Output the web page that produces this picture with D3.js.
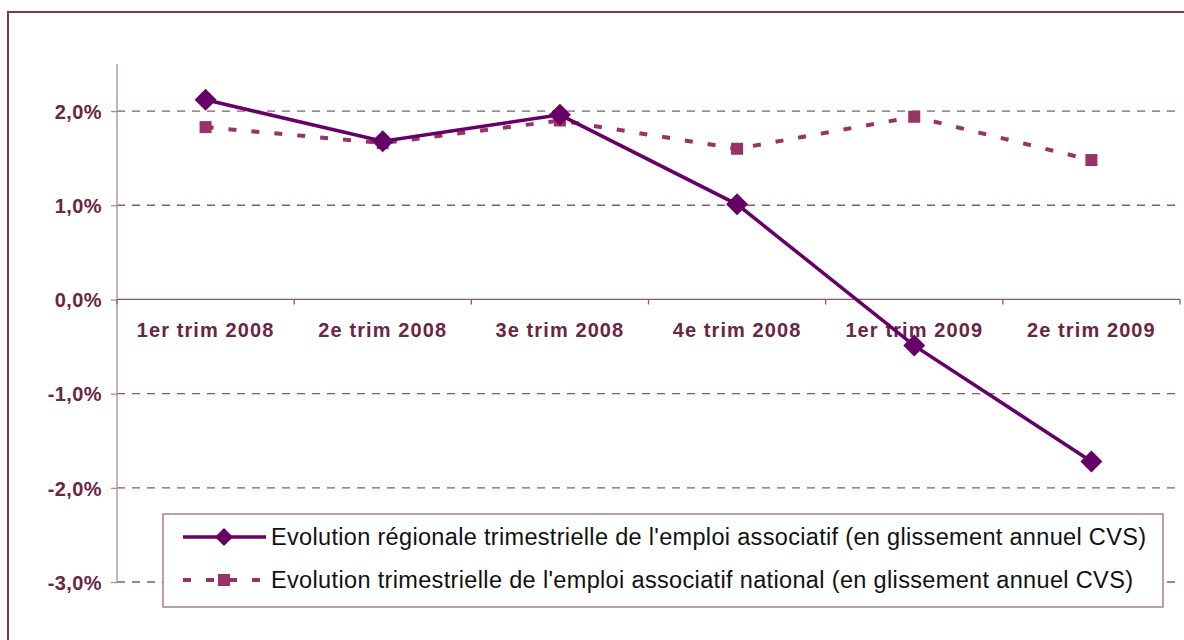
<!DOCTYPE html>
<html>
<head>
<meta charset="utf-8">
<script src="https://d3js.org/d3.v7.min.js"></script>
<style>
  body { margin: 0; background: #fff; }
  svg { display: block; font-family: "Liberation Sans", Arial, sans-serif; }
</style>
</head>
<body>
<div id="vis"></div>
<script>
// quarters on the x axis
const categories = ["1er trim 2008", "2e trim 2008", "3e trim 2008", "4e trim 2008", "1er trim 2009", "2e trim 2009"];
// regional series (% annual change, CVS)
const regional = [2.12, 1.68, 1.96, 1.01, -0.49, -1.72];
// national series
const national = [1.83, 1.66, 1.90, 1.60, 1.94, 1.48];
const yTicks = [-3, -2, -1, 0, 1, 2];
const legendLabels = [
  "Evolution régionale trimestrielle de l'emploi associatif (en glissement annuel CVS)",
  "Evolution trimestrielle de l'emploi associatif national (en glissement annuel CVS)"
];

const W = 1184, H = 640;
const svg = d3.select("#vis").append("svg").attr("width", W).attr("height", H);

const textCol = "#6b2545";
const gridCol = "#8c5572";
const axisCol = "#b08a9c";
const regCol = "#660066";
const natCol = "#993366";

// outer frame
svg.append("rect")
  .attr("x", 8).attr("y", 12).attr("width", W + 20).attr("height", H + 20)
  .attr("fill", "none").attr("stroke", "#7a3a58").attr("stroke-width", 2);

const left = 117, right = 1180;
const x = d3.scalePoint().domain(categories).range([left, right]).padding(0.5);
const y = d3.scaleLinear().domain([-3, 2.5]).range([582, 64]);

// gridlines (dashed), zero line is the axis
svg.append("g").selectAll("line")
  .data(yTicks.filter(d => d !== 0))
  .join("line")
  .attr("x1", left).attr("x2", right)
  .attr("y1", d => y(d)).attr("y2", d => y(d))
  .attr("stroke", gridCol).attr("stroke-width", 1.3)
  .attr("stroke-dasharray", "8,7");

// y axis
const yAxis = d3.axisLeft(y).tickValues(yTicks).tickSize(6).tickPadding(9)
  .tickFormat(d => d3.format(".1f")(d).replace(".", ",").replace("−", "-") + "%");
const gy = svg.append("g").attr("transform", `translate(${left},0)`).call(yAxis);
gy.select(".domain").attr("stroke", axisCol).attr("stroke-width", 1.3)
  .attr("d", `M-0,${y(2.5)}V${y(-3)}`);
gy.selectAll(".tick line").attr("stroke", axisCol).attr("stroke-width", 1.3);
gy.selectAll(".tick text")
  .attr("fill", textCol).attr("font-size", 20).attr("font-weight", "bold")
  .attr("font-family", "Liberation Sans, Arial, sans-serif")
  .attr("dy", "0.36em")
  .style("letter-spacing", "0.4px");

// x axis at zero
const step = x.step();
svg.append("line")
  .attr("x1", left).attr("x2", right).attr("y1", y(0)).attr("y2", y(0))
  .attr("stroke", gridCol).attr("stroke-width", 1.3);
svg.append("g").selectAll("line")
  .data(d3.range(categories.length + 1))
  .join("line")
  .attr("x1", i => left + i * step).attr("x2", i => left + i * step)
  .attr("y1", y(0)).attr("y2", y(0) + 5)
  .attr("stroke", gridCol).attr("stroke-width", 1.3);
svg.append("g").selectAll("text")
  .data(categories)
  .join("text")
  .attr("x", d => x(d)).attr("y", y(0) + 37.5)
  .attr("text-anchor", "middle")
  .attr("fill", textCol).attr("font-size", 20).attr("font-weight", "bold")
  .style("letter-spacing", "1.1px")
  .text(d => d);

const line = d3.line().x((d, i) => x(categories[i])).y(d => y(d));

// national series: dashed with squares
svg.append("path").datum(national)
  .attr("d", line).attr("fill", "none")
  .attr("stroke", natCol).attr("stroke-width", 4)
  .attr("stroke-dasharray", "8,15");
svg.append("g").selectAll("rect")
  .data(national)
  .join("rect")
  .attr("x", (d, i) => x(categories[i]) - 6).attr("y", d => y(d) - 6)
  .attr("width", 12).attr("height", 12).attr("fill", natCol);

// regional series: solid with diamonds
svg.append("path").datum(regional)
  .attr("d", line).attr("fill", "none")
  .attr("stroke", regCol).attr("stroke-width", 3.5);
const diamond = "M0,-11L11,0L0,11L-11,0Z";
svg.append("g").selectAll("path")
  .data(regional)
  .join("path")
  .attr("d", diamond)
  .attr("transform", (d, i) => `translate(${x(categories[i])},${y(d)})`)
  .attr("fill", regCol);

// legend
const lg = svg.append("g");
lg.append("rect")
  .attr("x", 163).attr("y", 514).attr("width", 1000).attr("height", 93)
  .attr("fill", "#fff").attr("stroke", "#9a6a82").attr("stroke-width", 1.3);
const ly = [537, 580];
lg.append("line").attr("x1", 183).attr("x2", 266).attr("y1", ly[0]).attr("y2", ly[0])
  .attr("stroke", regCol).attr("stroke-width", 3.5);
lg.append("path").attr("d", "M0,-9L9,0L0,9L-9,0Z")
  .attr("transform", `translate(224,${ly[0]})`).attr("fill", regCol);
lg.append("line").attr("x1", 183).attr("x2", 266).attr("y1", ly[1]).attr("y2", ly[1])
  .attr("stroke", natCol).attr("stroke-width", 4).attr("stroke-dasharray", "8,15");
lg.append("rect").attr("x", 218).attr("y", ly[1] - 6).attr("width", 12).attr("height", 12)
  .attr("fill", natCol);
const legendWidths = [875, 862];
lg.selectAll("text.lab")
  .data(legendLabels)
  .join("text")
  .attr("class", "lab")
  .attr("x", 271).attr("y", (d, i) => ly[i] + 8)
  .attr("font-size", 23.5).attr("fill", "#111")
  .attr("textLength", (d, i) => legendWidths[i])
  .attr("lengthAdjust", "spacing")
  .text(d => d);
</script>
</body>
</html>
